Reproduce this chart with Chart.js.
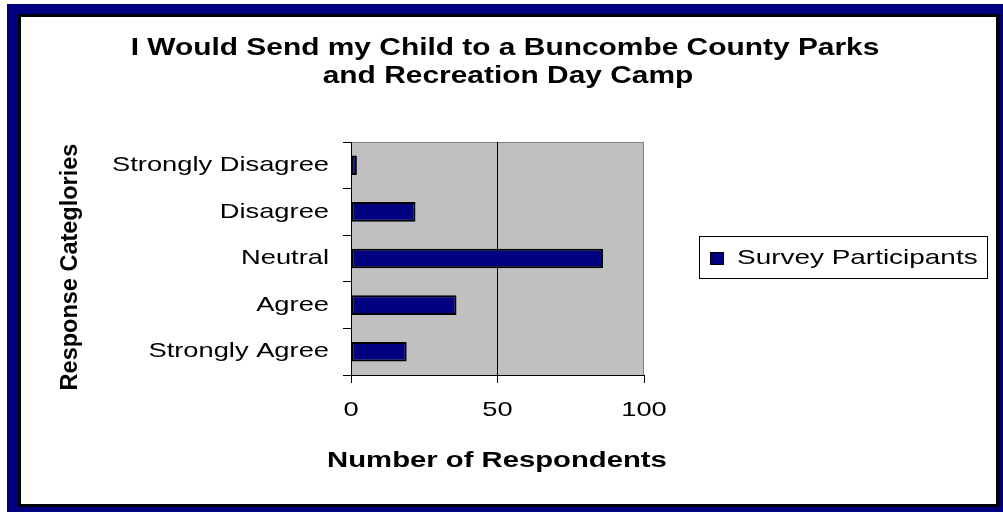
<!DOCTYPE html>
<html>
<head>
<meta charset="utf-8">
<script src="https://cdn.jsdelivr.net/npm/chart.js@4/dist/chart.umd.min.js"></script>
<style>
  html, body { margin: 0; padding: 0; background: #ffffff; }
  #wrap { width: 1003px; height: 512px; position: relative; }
</style>
</head>
<body>
<div id="wrap"><canvas id="c" width="1003" height="512"></canvas></div>
<script>
const categories = ['Strongly Disagree', 'Disagree', 'Neutral', 'Agree', 'Strongly Agree'];
const surveyParticipants = [2, 22, 86, 36, 19];
const seriesName = 'Survey Participants';
const titleLines = ['I Would Send my Child to a Buncombe County Parks', 'and Recreation Day Camp'];
const xAxisTitle = 'Number of Respondents';
const yAxisTitle = 'Response Categlories';
const xTicks = [0, 50, 100];

const FONT = '"Liberation Sans", Arial, Helvetica, sans-serif';

// The reference renders its text horizontally wider than the font's natural width.
const canvas = document.getElementById('c');
const ctx0 = canvas.getContext('2d');
const nativeFillText = ctx0.fillText.bind(ctx0);
let stretch = 1;
ctx0.fillText = function (text, x, y) {
  this.save();
  this.translate(x, y);
  this.scale(stretch, 1);
  nativeFillText(text, 0, 0);
  this.restore();
};

const decor = {
  id: 'decor',
  beforeDraw(chart) {
    const ctx = chart.ctx;
    const a = chart.chartArea;
    ctx.save();
    ctx.fillStyle = '#000080';
    ctx.fillRect(7, 4, 996, 508);
    ctx.fillStyle = '#000000';
    ctx.fillRect(18, 14, 982, 493);
    ctx.fillStyle = '#ffffff';
    ctx.fillRect(21, 17, 975, 487);
    ctx.fillStyle = '#c0c0c0';
    ctx.fillRect(a.left, a.top, a.right - a.left, a.bottom - a.top);
    ctx.strokeStyle = '#808080';
    ctx.lineWidth = 1;
    ctx.strokeRect(a.left + 0.5, a.top + 0.5, a.right - a.left - 1, a.bottom - a.top);
    ctx.restore();
    stretch = 1.3;
  },
  afterDraw(chart) {
    const ctx = chart.ctx;
    ctx.save();
    ctx.fillStyle = '#000000';
    ctx.textBaseline = 'alphabetic';
    ctx.textAlign = 'center';
    // title
    stretch = 1.3;
    ctx.font = 'bold 23px ' + FONT;
    ctx.fillText(titleLines[0], 505, 55);
    ctx.fillText(titleLines[1], 508, 83);
    // x axis title
    stretch = 1.33;
    ctx.font = 'bold 22px ' + FONT;
    ctx.fillText(xAxisTitle, 497, 467);
    // y axis title (rotated)
    stretch = 1;
    ctx.save();
    ctx.translate(77, 267);
    ctx.rotate(-Math.PI / 2);
    ctx.font = 'bold 23.5px ' + FONT;
    ctx.fillText(yAxisTitle, 0, 0);
    ctx.restore();
    // legend
    ctx.strokeStyle = '#000000';
    ctx.lineWidth = 1;
    ctx.fillStyle = '#ffffff';
    ctx.fillRect(699, 236, 288, 42);
    ctx.strokeRect(699.5, 236.5, 288, 42);
    const ds = chart.data.datasets[0];
    ctx.fillStyle = ds.backgroundColor;
    ctx.fillRect(710, 252, 14, 13);
    ctx.strokeStyle = '#000000';
    ctx.strokeRect(710.5, 252.5, 13, 12);
    ctx.fillStyle = '#000000';
    stretch = 1.33;
    ctx.font = '21px ' + FONT;
    ctx.textAlign = 'left';
    ctx.fillText(ds.label, 737, 264);
    ctx.restore();
    stretch = 1;
  }
};

new Chart(canvas, {
  type: 'bar',
  data: {
    labels: categories,
    datasets: [{
      label: seriesName,
      data: surveyParticipants,
      backgroundColor: '#000080',
      borderColor: '#000000',
      borderWidth: 2,
      borderSkipped: false,
      categoryPercentage: 1,
      barPercentage: 0.42
    }]
  },
  options: {
    indexAxis: 'y',
    responsive: false,
    animation: false,
    devicePixelRatio: 1,
    layout: { padding: { top: 142, right: 359, bottom: 0, left: 0 } },
    plugins: { legend: { display: false }, title: { display: false }, tooltip: { enabled: false } },
    scales: {
      x: {
        type: 'linear',
        min: 0,
        max: 100,
        afterFit(s) { s.height = 137; },
        afterBuildTicks(s) { s.ticks = xTicks.map(v => ({ value: v })); },
        grid: {
          drawOnChartArea: true,
          color: c => (c.tick && c.tick.value === 50 ? '#000000' : 'rgba(0,0,0,0)'),
          tickColor: '#000000',
          tickLength: 8,
          lineWidth: 1
        },
        border: { display: true, color: '#000000', width: 1 },
        ticks: { color: '#000000', font: { family: FONT, size: 21 }, padding: 15, maxRotation: 0 }
      },
      y: {
        afterFit(s) { s.width = 351; },
        grid: {
          offset: true,
          color: 'rgba(0,0,0,0)',
          tickColor: '#000000',
          tickLength: 8,
          drawOnChartArea: false
        },
        border: { display: true, color: '#000000', width: 1 },
        ticks: { color: '#000000', font: { family: FONT, size: 21 }, padding: 14 }
      }
    }
  },
  plugins: [decor]
});
</script>
</body>
</html>
